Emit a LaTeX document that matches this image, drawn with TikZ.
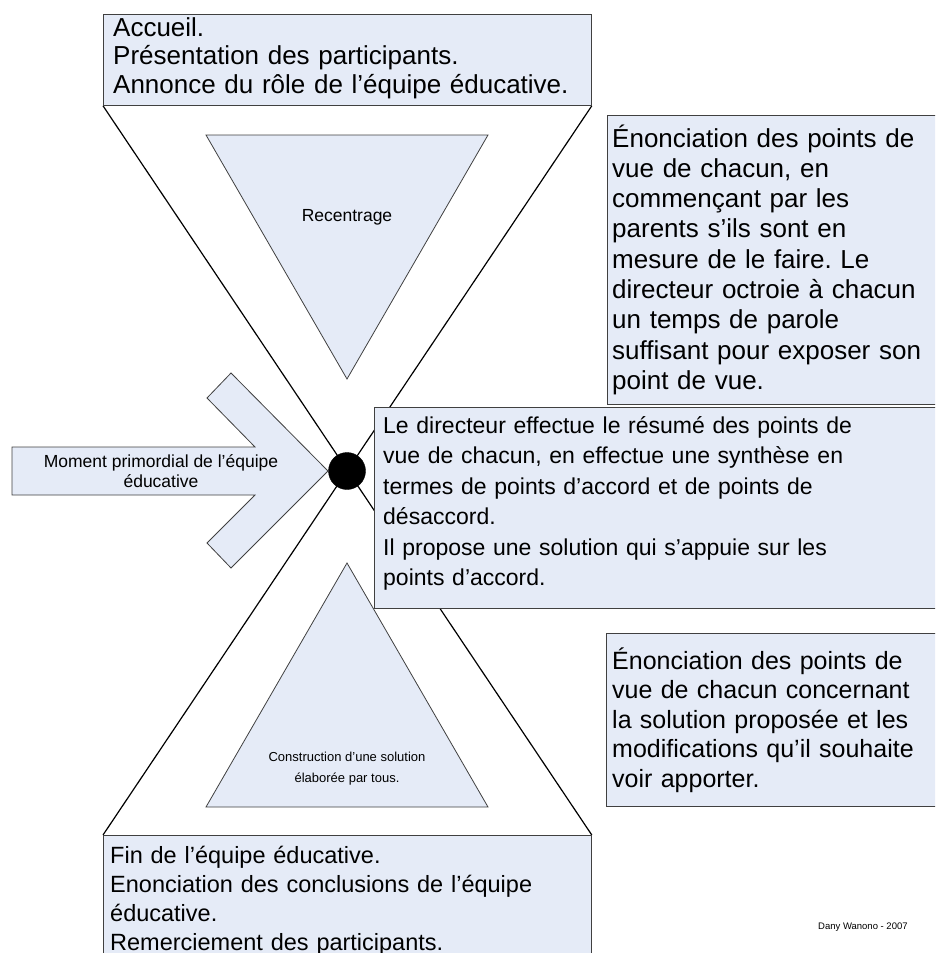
\documentclass[tikz,border=0pt]{standalone}
\usepackage{fontspec}
\setmainfont{Liberation Sans}
\usetikzlibrary{backgrounds}
\definecolor{boxfill}{HTML}{E5EBF7}
\definecolor{edgegray}{HTML}{404040}
\newcommand\txtA{\fontsize{26}{28.5}\selectfont}
\newcommand\txtB{\fontsize{26}{30.3}\selectfont}
\newcommand\txtC{\fontsize{23}{30.5}\selectfont}
\newcommand\txtD{\fontsize{25}{29.5}\selectfont}
\newcommand\txtE{\fontsize{23.5}{29}\selectfont}
\newcommand\smalltxt{\fontsize{17.5}{20.4}\selectfont}
\newcommand\smallertxt{\fontsize{13}{21}\selectfont}
\newcommand\signtxt{\fontsize{9.5}{12}\selectfont}
\begin{document}
\frenchspacing
\begin{tikzpicture}[x=1pt,y=-1pt,
  shapefill/.style={draw=edgegray, fill=boxfill, line width=0.8pt, line join=miter},
  panel/.style={shapefill, rectangle, anchor=north west, inner sep=0pt},
  paneltext/.style={anchor=base west, align=left, inner sep=0pt, text width=#1},
  guide/.style={draw=black, line width=1.2pt},
  lbl/.style={font=\smalltxt, align=center, inner sep=0pt}]
\useasboundingbox (0,0) rectangle (935,953);
\clip (0,0) rectangle (935,953);

% top and bottom panels
\node[panel, minimum width=488pt, minimum height=91pt] (topbox) at (103,14) {};
\node[paneltext=478pt, font=\txtA] (toptext) at (113,36)
  {Accueil.\\Présentation des participants.\\Annonce du rôle de l’équipe éducative.};
\node[panel, minimum width=488pt, minimum height=140pt] (botbox) at (103,835) {};
\node[paneltext=478pt, font=\txtE] (bottext) at (110,863)
  {Fin de l’équipe éducative.\\Enonciation des conclusions de l’équipe\\éducative.\\Remerciement des participants.};

% hourglass lines behind everything
\begin{pgfonlayer}{background}
\draw[guide] (topbox.south west) -- (botbox.north east);
\draw[guide] (topbox.south east) -- (botbox.north west);
\end{pgfonlayer}

% triangles
\draw[shapefill] (206,135) -- (488,135) -- (347,379) -- cycle;
\node[lbl] (recentrage) at (347,217) {Recentrage};
\draw[shapefill] (347,563) -- (488,807) -- (206,807) -- cycle;
\node[lbl, font=\smallertxt] (construction) at (347,769) {Construction d’une solution\\élaborée par tous.};

% chevron arrow
\draw[shapefill] (12,447) -- (255,447) -- (207,398) -- (231,373) -- (328,471) -- (231,568) -- (207,543) -- (255,495) -- (12,495) -- cycle;
\node[lbl] (moment) at (161,471) {Moment primordial de l’équipe\\éducative};

% hub
\node[circle, fill=black, draw=black, minimum size=37pt, inner sep=0pt] (hub) at (347,471) {};

% right panels
\node[panel, minimum width=340pt, minimum height=289pt] (rtop) at (607,115) {};
\node[paneltext=330pt, font=\txtB] (rtoptext) at (612,147)
  {Énonciation des points de\\vue de chacun, en\\commençant par les\\parents s’ils sont en\\mesure de le faire. Le\\directeur octroie à chacun\\un temps de parole\\suffisant pour exposer son\\point de vue.};
\node[panel, minimum width=600pt, minimum height=201pt] (mid) at (374,407) {};
\node[paneltext=560pt, font=\txtC] (midtext) at (383,433)
  {Le directeur effectue le résumé des points de\\vue de chacun, en effectue une synthèse en\\termes de points d’accord et de points de\\désaccord.\\Il propose une solution qui s’appuie sur les\\points d’accord.};
\node[panel, minimum width=340pt, minimum height=173pt] (rbot) at (606,633) {};
\node[paneltext=330pt, font=\txtD] (rbottext) at (612,669)
  {Énonciation des points de\\vue de chacun concernant\\la solution proposée et les\\modifications qu’il souhaite\\voir apporter.};

\node[font=\signtxt, anchor=base west, inner sep=0pt] (sign) at (818,929) {Dany Wanono - 2007};
\end{tikzpicture}
\end{document}
